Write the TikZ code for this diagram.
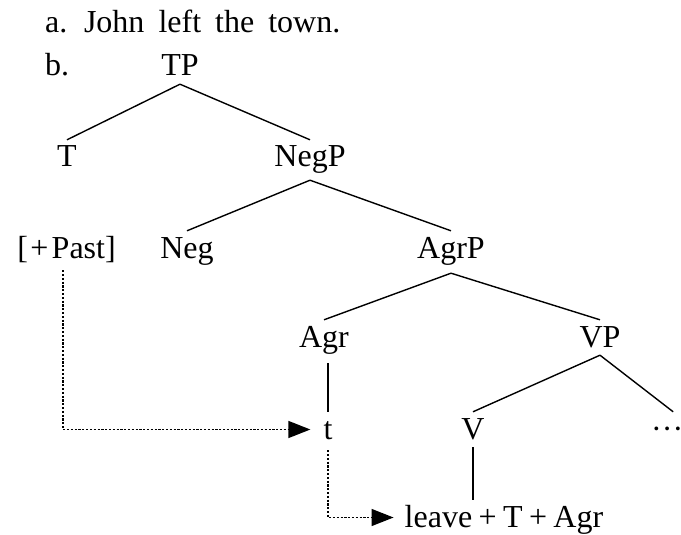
\documentclass[tikz,border=0pt]{standalone}
\usepackage{fontspec}
\setmainfont{Liberation Serif}
\usetikzlibrary{arrows.meta}
\begin{document}
\begin{tikzpicture}[x=1pt,y=-1pt,
  lbl/.style={inner xsep=3pt, inner ysep=3pt, text height=24pt, text depth=5pt,
    font=\fontsize{32pt}{38pt}\selectfont, anchor=base},
  txt/.style={inner sep=0pt, anchor=base west, font=\fontsize{32pt}{38pt}\selectfont},
  edge/.style={line width=1.4pt},
  mv/.style={line width=1.4pt, dash pattern=on 2.2pt off 1.6pt,
    -{Triangle[length=22pt,width=17pt]}}]
\useasboundingbox (0,0) rectangle (681,535);
% example sentence and labels
\node[txt] (sa) at (45,33) {\spaceskip=14pt a. John left the town.};
\node[txt] (sb) at (45,76) {b.};
% tree nodes
\node[lbl] (TP) at (180,76) {TP};
\node[lbl] (T) at (67,167) {T};
\node[lbl] (NegP) at (310,167) {NegP};
\node[lbl] (Past) at (66.5,258) {[\hspace{.08em}+\hspace{.1em}Past]};
\node[lbl] (Neg) at (187,258) {Neg};
\node[lbl] (AgrP) at (451,258) {AgrP};
\node[lbl] (Agr) at (324,347) {Agr};
\node[lbl] (VP) at (600,347) {VP};
\node[lbl] (t) at (328,439) {t};
\node[lbl] (V) at (473,439) {V};
\node[lbl, anchor=base west, inner xsep=0pt] (dots) at (651,439) {\char"00B7\char"00B7\char"00B7};
\node[lbl] (leave) at (504,527) {leave\hspace{.2em}+\hspace{.2em}T\hspace{.2em}+\hspace{.2em}Agr};
% tree edges
\draw[edge] (TP.south) -- (T.north);
\draw[edge] (TP.south) -- (NegP.north);
\draw[edge] ([yshift=-5pt]NegP.south) -- (Neg.north);
\draw[edge] ([yshift=-5pt]NegP.south) -- (AgrP.north);
\draw[edge] ([yshift=-7pt]AgrP.south) -- (Agr.north);
\draw[edge] ([yshift=-7pt]AgrP.south) -- (VP.north);
\draw[edge] (VP.south) -- (V.north);
\draw[edge] (VP.south) -- ([xshift=6pt]dots.north);
\draw[edge] (t.north) -- ([yshift=-8pt]t.north |- Agr.south);
\draw[edge] (V.south) -- (V.south |- leave.north);
% movement arrows
\draw[mv, shorten >=10pt] ([xshift=-3.5pt,yshift=-4pt]Past.south) |- (t.west);
\draw[mv, shorten >=8pt] ([yshift=-3pt]t.south) |- (leave.west);
\end{tikzpicture}
\end{document}
